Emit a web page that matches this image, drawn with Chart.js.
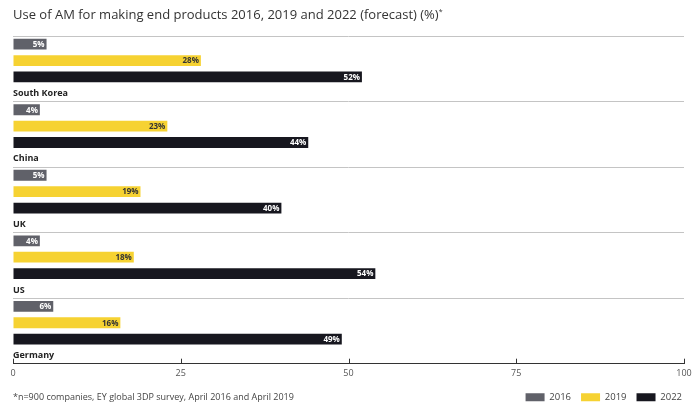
<!DOCTYPE html>
<html>
<head>
<meta charset="utf-8">
<script src="https://cdn.jsdelivr.net/npm/chart.js@4.4.1/dist/chart.umd.min.js"></script>
<style>
  html, body { margin: 0; padding: 0; background: #fff; }
  #wrap { position: relative; width: 692px; height: 404px; }
  #title { position: absolute; left: 13px; top: 5px; font: 13px "Open Sans", sans-serif; color: #333; white-space: nowrap; }
  #title sup { font-size: 7px; }
</style>
</head>
<body>
<div id="wrap">
  <div id="title">Use of AM for making end products 2016, 2019 and 2022 (forecast) (%)<sup>*</sup></div>
  <canvas id="chart" width="692" height="404"></canvas>
</div>
<script>
const countries = ['South Korea', 'China', 'UK', 'US', 'Germany'];
const years = ['2016', '2019', '2022'];
const values2016 = [5, 4, 5, 4, 6];
const values2019 = [28, 23, 19, 18, 16];
const values2022 = [52, 44, 40, 54, 49];
const xTicks = [0, 25, 50, 75, 100];
const footnote = '*n=900 companies, EY global 3DP survey, April 2016 and April 2019';

const COLORS = ['#606169', '#f6d232', '#17171f'];
const LABEL_COLORS = ['#ffffff', '#333333', '#ffffff'];
const FONT = '"Open Sans", sans-serif';

// value labels inside bars, country names in the spare slot, footnote beside the legend,
// and the short upward tick marks on the x axis
const annotate = {
    id: 'annotate',
    afterDatasetsDraw(chart) {
        const ctx = chart.ctx;
        ctx.save();
        ctx.textBaseline = 'middle';
        for (let d = 0; d < 3; d++) {
            const meta = chart.getDatasetMeta(d);
            ctx.font = 'bold 8px ' + FONT;
            ctx.fillStyle = LABEL_COLORS[d];
            ctx.textAlign = 'right';
            meta.data.forEach((bar, i) => {
                ctx.fillText(chart.data.datasets[d].data[i] + '%', bar.x - 2, bar.y + 0.5);
            });
        }
        const spare = chart.getDatasetMeta(3);
        ctx.font = 'bold 9px ' + FONT;
        ctx.fillStyle = '#222';
        ctx.textAlign = 'left';
        spare.data.forEach((bar, i) => {
            ctx.fillText(countries[i], chart.chartArea.left, bar.y);
        });
        const item = chart.legend.legendHitBoxes[0];
        ctx.font = '9px ' + FONT;
        ctx.fillStyle = '#444';
        ctx.fillText(footnote, chart.chartArea.left, item.top + item.height / 2);

        const x = chart.scales.x;
        const base = chart.chartArea.bottom;
        ctx.strokeStyle = '#333';
        ctx.lineWidth = 1;
        xTicks.forEach(v => {
            const px = Math.round(x.getPixelForValue(v)) + 0.5;
            ctx.beginPath();
            ctx.moveTo(px, base - 5);
            ctx.lineTo(px, base);
            ctx.stroke();
        });
        ctx.restore();
    }
};

const datasets = [values2016, values2019, values2022].map((vals, i) => ({
    label: years[i],
    data: vals,
    backgroundColor: COLORS[i],
    barPercentage: 0.66,
    categoryPercentage: 1,
}));
datasets.push({ label: '', data: countries.map(() => 0), backgroundColor: 'transparent', barPercentage: 0.66, categoryPercentage: 1 });

new Chart(document.getElementById('chart'), {
    type: 'bar',
    data: { labels: countries, datasets },
    options: {
        indexAxis: 'y',
        responsive: false,
        animation: false,
        layout: { padding: { top: 36, left: 13, right: 0, bottom: -8 } },
        plugins: {
            legend: {
                position: 'bottom',
                align: 'end',
                labels: {
                    filter: item => item.text !== '',
                    boxWidth: 19,
                    boxHeight: 8,
                    padding: 10,
                    color: '#444',
                    font: { family: FONT, size: 9.5 },
                },
            },
            tooltip: { enabled: false },
        },
        scales: {
            x: {
                min: 0,
                max: 100,
                afterBuildTicks: axis => { axis.ticks = xTicks.map(v => ({ value: v })); },
                afterFit: axis => { axis.paddingRight = 8; },
                grid: { drawOnChartArea: false, drawTicks: false },
                border: { display: true, color: '#333', width: 1 },
                ticks: { color: '#555', font: { family: FONT, size: 9 }, padding: 4 },
            },
            y: {
                grid: { color: '#c4c4c4', drawTicks: false, offset: true },
                border: { display: false },
                ticks: { display: false },
            },
        },
    },
    plugins: [annotate],
});
</script>
</body>
</html>
